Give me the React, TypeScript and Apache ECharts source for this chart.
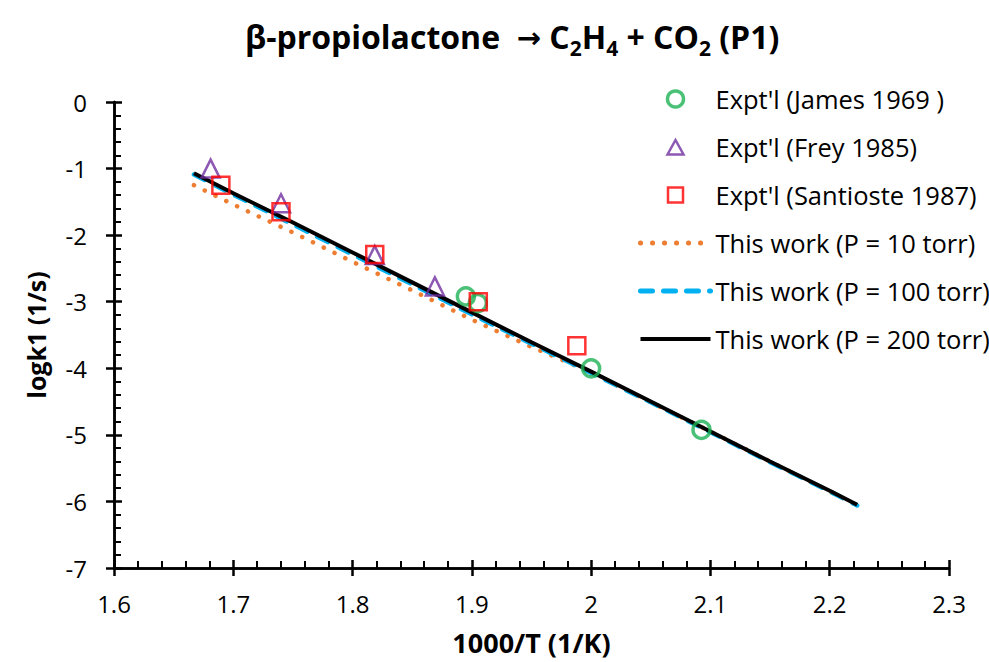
import React, { useEffect, useRef } from "react";
import * as echarts from "echarts";

// Experimental data
const jamesX = [1.895, 1.905, 2.0, 2.0925];
const jamesY = [-2.92, -3.02, -4.0, -4.925];
const freyX = [1.681, 1.74, 1.8186, 1.869];
const freyY = [-1.0, -1.52, -2.3, -2.77];
const santX = [1.6896, 1.74, 1.8186, 1.9054, 1.988];
const santY = [-1.25, -1.65, -2.29, -3.0, -3.66];

// Model curves
const lineX = [1.667, 1.7, 1.75, 1.8, 1.85, 1.9, 1.95, 2.0, 2.05, 2.1, 2.15, 2.2, 2.223];
const p10Y = [-1.25, -1.54, -1.96, -2.4, -2.83, -3.27, -3.68, -4.06, -4.51, -4.95, -5.4, -5.85, -6.06];
const p100Y = [-1.09, -1.39, -1.84, -2.29, -2.74, -3.19, -3.63, -4.07, -4.51, -4.96, -5.41, -5.85, -6.06];
const p200Y = [-1.07, -1.37, -1.81, -2.26, -2.71, -3.16, -3.61, -4.05, -4.5, -4.95, -5.4, -5.84, -6.05];

const xTicks = { min: 1.6, max: 2.3, interval: 0.1 };
const yTicks = { min: -7, max: 0, interval: 1 };

const FONT = "Open Sans";

const zip = (xs: number[], ys: number[]) => xs.map((x, i) => [x, ys[i]]);

const TRI_ICON = "path://M0,0M70,16M27,15.5L35,1L43,15.5Z";
const RECT_ICON = "path://M0,0M70,16M27.5,0.5L42.5,0.5L42.5,15.5L27.5,15.5Z";
const HIDE_SYMBOL = { color: "rgba(0,0,0,0)", borderWidth: 0 };

export default function App() {
  const ref = useRef<HTMLDivElement>(null);
  useEffect(() => {
    if (!ref.current) return;
    const chart = echarts.init(ref.current, undefined, { renderer: "svg" });
    const axisLine = { show: true, onZero: false, lineStyle: { color: "#000", width: 2.5 } };
    const hiddenLabels = { show: false };
    const n = { fontFamily: FONT, fontSize: 32, fontWeight: "bold", color: "#000", lineHeight: 38, verticalAlign: "top" };
    const s = { fontFamily: FONT, fontSize: 21, fontWeight: "bold", color: "#000", lineHeight: 25, padding: [19, 0, 0, 0], verticalAlign: "bottom" };
    const a = { fontFamily: "DejaVu Sans", fontSize: 29, color: "#000", lineHeight: 38, verticalAlign: "top", padding: [3, 0, 0, 0] };
    chart.setOption({
      animation: false,
      backgroundColor: "#fff",
      title: {
        text: "{n|β-propiolactone  }{a|→}{n| C}{s|2}{n|H}{s|4}{n| + CO}{s|2}{n| (P1)}",
        left: 240,
        top: 15,
        textStyle: { rich: { n, s, a } },
      },
      legend: {
        orient: "vertical",
        left: 633,
        top: 79,
        itemWidth: 70,
        itemHeight: 16,
        itemGap: 18,
        lineStyle: { width: 5 },
        textStyle: { fontFamily: FONT, fontSize: 25.5, color: "#000", lineHeight: 30 },
        data: [
          { name: "Expt'l (James 1969 )", icon: "circle", itemStyle: { borderWidth: 3.5 } },
          { name: "Expt'l (Frey 1985)", icon: TRI_ICON, itemStyle: { borderWidth: 2.5 } },
          { name: "Expt'l (Santioste 1987)", icon: RECT_ICON, itemStyle: { borderWidth: 2.5 } },
          { name: "This work (P = 10 torr)", itemStyle: HIDE_SYMBOL },
          { name: "This work (P = 100 torr)", itemStyle: HIDE_SYMBOL },
          { name: "This work (P = 200 torr)", itemStyle: HIDE_SYMBOL, lineStyle: { width: 4 } },
        ],
      },
      grid: { left: 114, right: 40, top: 102, bottom: 94, containLabel: false, outerBoundsMode: "none" },
      xAxis: [
        {
          type: "value",
          ...xTicks,
          axisLine,
          axisTick: { show: true, inside: false, length: 8, lineStyle: { color: "#000", width: 2.5 } },
          axisLabel: { fontFamily: FONT, fontSize: 24, color: "#000", margin: 23 },
          splitLine: { show: false },
          name: "1000/T (1/K)",
          nameLocation: "middle",
          nameGap: 60,
          nameTextStyle: { fontFamily: FONT, fontSize: 27, fontWeight: "bold", color: "#000", lineHeight: 28 },
        },
        {
          type: "value",
          ...xTicks,
          position: "bottom",
          axisLine,
          axisTick: { show: true, inside: true, length: 8, lineStyle: { color: "#000", width: 2.5 } },
          minorTick: { show: true, splitNumber: 5, length: 7, lineStyle: { color: "#000", width: 2 } },
          axisLabel: hiddenLabels,
          splitLine: { show: false },
        },
      ],
      yAxis: [
        {
          type: "value",
          ...yTicks,
          axisLine,
          axisTick: { show: true, inside: false, length: 8, lineStyle: { color: "#000", width: 2.5 } },
          axisLabel: { fontFamily: FONT, fontSize: 24, color: "#000", margin: 27 },
          splitLine: { show: false },
          name: "logk1 (1/s)",
          nameLocation: "middle",
          nameGap: 66,
          nameTextStyle: { fontFamily: FONT, fontSize: 25, fontWeight: "bold", color: "#000" },
        },
        {
          type: "value",
          ...yTicks,
          position: "left",
          axisLine,
          axisTick: { show: true, inside: true, length: 8, lineStyle: { color: "#000", width: 2.5 } },
          minorTick: { show: true, splitNumber: 5, length: 7, lineStyle: { color: "#000", width: 2 } },
          axisLabel: hiddenLabels,
          splitLine: { show: false },
        },
      ],
      series: [
        {
          name: "This work (P = 10 torr)",
          type: "line",
          data: zip(lineX, p10Y),
          symbol: "none",
          z: 2,
          lineStyle: { color: "#ED7D31", width: 4.5, type: [0.1, 11.9], cap: "round" },
          itemStyle: { color: "#ED7D31" },
        },
        {
          name: "This work (P = 100 torr)",
          type: "line",
          data: zip(lineX, p100Y),
          symbol: "none",
          z: 3,
          lineStyle: { color: "#00B0F0", width: 4.5, type: [12, 11], cap: "round" },
          itemStyle: { color: "#00B0F0" },
        },
        {
          name: "This work (P = 200 torr)",
          type: "line",
          data: zip(lineX, p200Y),
          symbol: "none",
          z: 4,
          lineStyle: { color: "#000", width: 4 },
          itemStyle: { color: "#000" },
        },
        {
          name: "Expt'l (James 1969 )",
          type: "scatter",
          data: zip(jamesX, jamesY),
          symbol: "circle",
          symbolSize: 17,
          z: 5,
          itemStyle: { color: "rgba(255,255,255,0)", borderColor: "#1DB254", borderWidth: 3.5 },
        },
        {
          name: "Expt'l (Frey 1985)",
          type: "scatter",
          data: zip(freyX, freyY),
          symbol: "triangle",
          symbolSize: 18,
          z: 5,
          itemStyle: { color: "rgba(255,255,255,0)", borderColor: "#7030A0", borderWidth: 2.5 },
        },
        {
          name: "Expt'l (Santioste 1987)",
          type: "scatter",
          data: zip(santX, santY),
          symbol: "rect",
          symbolSize: 17,
          z: 5,
          itemStyle: { color: "rgba(255,255,255,0)", borderColor: "#FF0000", borderWidth: 2.5 },
        },
      ],
    });
    return () => chart.dispose();
  }, []);
  return <div ref={ref} style={{ width: 989, height: 662, position: "absolute", left: 0, top: 0 }} />;
}
